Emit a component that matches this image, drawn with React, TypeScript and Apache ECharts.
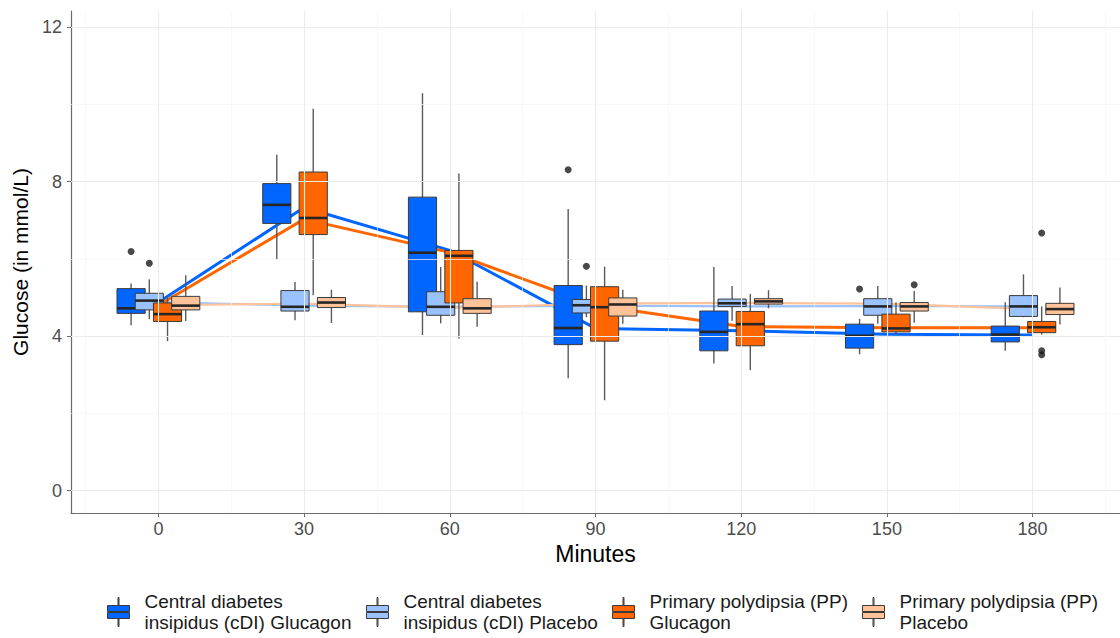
import React, { useEffect, useRef } from "react";
import * as echarts from "echarts";

// ---------- data ----------
const minutes = [0, 30, 60, 90, 120, 150, 180];

const groupNames = [
  "Central diabetes insipidus (cDI) Glucagon",
  "Central diabetes insipidus (cDI) Placebo",
  "Primary polydipsia (PP) Glucagon",
  "Primary polydipsia (PP) Placebo",
];
const legendLabels = [
  "Central diabetes\ninsipidus (cDI) Glucagon",
  "Central diabetes\ninsipidus (cDI) Placebo",
  "Primary polydipsia (PP)\nGlucagon",
  "Primary polydipsia (PP)\nPlacebo",
];

// [min, q1, median, q3, max] per time point
const cdiGlucagonBoxes = [
  [4.28, 4.59, 4.72, 5.23, 5.36],
  [6.0, 6.92, 7.4, 7.95, 8.7],
  [4.03, 4.63, 6.16, 7.6, 10.29],
  [2.91, 3.78, 4.21, 5.31, 7.29],
  [3.29, 3.62, 4.11, 4.65, 5.79],
  [3.53, 3.69, 4.01, 4.31, 4.45],
  [3.62, 3.85, 4.04, 4.26, 4.88],
];
const cdiPlaceboBoxes = [
  [4.44, 4.68, 4.92, 5.11, 5.47],
  [4.41, 4.65, 4.76, 5.18, 5.4],
  [4.33, 4.54, 4.76, 5.15, 5.79],
  [4.49, 4.6, 4.8, 4.95, 5.31],
  [4.4, 4.77, 4.85, 4.96, 5.3],
  [4.32, 4.54, 4.77, 4.97, 5.3],
  [4.49, 4.51, 4.77, 5.05, 5.6],
];
const ppGlucagonBoxes = [
  [3.87, 4.38, 4.57, 4.86, 5.02],
  [5.06, 6.63, 7.06, 8.25, 9.89],
  [3.94, 4.86, 6.08, 6.22, 8.21],
  [2.34, 3.87, 4.75, 5.28, 5.8],
  [3.12, 3.75, 4.31, 4.64, 5.09],
  [4.05, 4.11, 4.2, 4.57, 4.87],
  [4.04, 4.09, 4.23, 4.38, 4.77],
];
const ppPlaceboBoxes = [
  [4.39, 4.68, 4.79, 5.03, 5.58],
  [4.34, 4.74, 4.87, 5.0, 5.2],
  [4.24, 4.59, 4.72, 4.97, 5.41],
  [4.32, 4.52, 4.82, 4.99, 5.2],
  [4.72, 4.83, 4.9, 4.97, 5.19],
  [4.35, 4.65, 4.77, 4.87, 5.17],
  [4.3, 4.56, 4.7, 4.85, 5.26],
];

// group means (connecting lines)
const cdiGlucagonMeans = [4.88, 7.33, 6.22, 4.2, 4.14, 4.05, 4.03];
const cdiPlaceboMeans = [4.88, 4.79, 4.76, 4.79, 4.77, 4.78, 4.77];
const ppGlucagonMeans = [4.8, 7.03, 6.17, 4.8, 4.25, 4.22, 4.22];
const ppPlaceboMeans = [4.8, 4.84, 4.73, 4.84, 4.86, 4.84, 4.7];

// outliers [minute, value]
const cdiGlucagonOutliers = [[0, 6.19], [90, 8.31], [150, 5.22]];
const cdiPlaceboOutliers = [[0, 5.89], [90, 5.81]];
const ppGlucagonOutliers = [[180, 6.67], [180, 3.62], [180, 3.52]];
const ppPlaceboOutliers = [[150, 5.33]];

const yTicks = [0, 4, 8, 12];
const yMinorTicks = [2, 6, 10];
const xMinorTicks = [-15, 15, 45, 75, 105, 135, 165, 195];

// ---------- styles ----------
const FONT = "'Liberation Sans', Arial, Helvetica, sans-serif";
const COLORS = ["#0066FF", "#99C2FF", "#FF6600", "#FFC299"];
const LINE_WIDTHS = [3, 2.2, 3, 2.2];
const DODGE = [-5.625, -1.875, 1.875, 5.625];
const BOX_WIDTH = 5.8;
const LEGEND_LEFT = [107, 366, 612, 862];
const LEGEND_ICON =
  "path://M10.5,0L11.5,0L11.5,8L10.5,8Z M0,8L22,8L22,14L0,14Z M0,15L22,15L22,21L0,21Z M10.5,21L11.5,21L11.5,29L10.5,29Z";

const boxSets = [cdiGlucagonBoxes, cdiPlaceboBoxes, ppGlucagonBoxes, ppPlaceboBoxes];
const meanSets = [cdiGlucagonMeans, cdiPlaceboMeans, ppGlucagonMeans, ppPlaceboMeans];
const outlierSets = [cdiGlucagonOutliers, cdiPlaceboOutliers, ppGlucagonOutliers, ppPlaceboOutliers];

function makeRenderItem(color: string) {
  return (params: any, api: any) => {
    const x = api.value(0);
    const lo = api.coord([x, api.value(1)]);
    const q1 = api.coord([x, api.value(2)]);
    const md = api.coord([x, api.value(3)]);
    const q3 = api.coord([x, api.value(4)]);
    const hi = api.coord([x, api.value(5)]);
    const w = api.size([BOX_WIDTH, 0])[0];
    return {
      type: "group",
      children: [
        {
          type: "line",
          shape: { x1: lo[0], y1: lo[1], x2: hi[0], y2: hi[1] },
          style: { stroke: "#5a5a5a", lineWidth: 1.4 },
        },
        {
          type: "rect",
          shape: { x: q3[0] - w / 2, y: q3[1], width: w, height: q1[1] - q3[1] },
          style: { fill: color, stroke: "#3a3a3a", lineWidth: 1 },
        },
        {
          type: "line",
          shape: { x1: md[0] - w / 2, y1: md[1], x2: md[0] + w / 2, y2: md[1] },
          style: { stroke: "#262626", lineWidth: 2.6 },
        },
      ],
    };
  };
}

export default function App() {
  const ref = useRef<HTMLDivElement>(null);

  useEffect(() => {
    document.body.style.margin = "0";
    if (!ref.current) return;
    const chart = echarts.init(ref.current, undefined, { renderer: "svg" });

    const gridMarks: any[] = [];
    yTicks.forEach((v) => gridMarks.push({ yAxis: v, lineStyle: { color: "#ebebeb", width: 1.1, type: "solid" } }));
    yMinorTicks.forEach((v) => gridMarks.push({ yAxis: v, lineStyle: { color: "#f5f5f5", width: 0.7, type: "solid" } }));
    minutes.forEach((v) => gridMarks.push({ xAxis: v, lineStyle: { color: "#ebebeb", width: 1.1, type: "solid" } }));
    xMinorTicks.forEach((v) => gridMarks.push({ xAxis: v, lineStyle: { color: "#f5f5f5", width: 0.7, type: "solid" } }));

    const series: any[] = [
      {
        name: "grid",
        type: "line",
        data: [],
        z: 1,
        silent: true,
        markLine: {
          silent: true,
          symbol: ["none", "none"],
          label: { show: false },
          animation: false,
          data: gridMarks,
        },
      },
    ];

    groupNames.forEach((name, g) => {
      series.push({
        name: name + " mean",
        type: "line",
        z: 2,
        symbol: "none",
        showSymbol: false,
        lineStyle: { color: COLORS[g], width: LINE_WIDTHS[g] },
        itemStyle: { color: COLORS[g] },
        data: minutes.map((m, i) => [m, meanSets[g][i]]),
      });
    });

    groupNames.forEach((name, g) => {
      series.push({
        name,
        type: "custom",
        z: 3,
        itemStyle: { color: COLORS[g] },
        renderItem: makeRenderItem(COLORS[g]),
        encode: { x: 0, y: [1, 2, 3, 4, 5] },
        data: minutes.map((m, i) => [m + DODGE[g], ...boxSets[g][i]]),
      });
    });

    groupNames.forEach((name, g) => {
      series.push({
        name: name + " outliers",
        type: "scatter",
        z: 4,
        symbolSize: 7,
        itemStyle: { color: "#1a1a1a" },
        data: outlierSets[g].map(([m, v]) => [m + DODGE[g], v]),
      });
    });

    const legends = groupNames.map((name, g) => ({
      show: true,
      left: LEGEND_LEFT[g],
      top: 591,
      padding: 0,
      orient: "horizontal",
      selectedMode: false,
      itemWidth: 22,
      itemHeight: 29,
      formatter: () => legendLabels[g],
      textStyle: { fontSize: 19, color: "#1a1a1a", fontFamily: FONT, lineHeight: 21, padding: [0, 0, 0, 10] },
      data: [
        {
          name,
          icon: LEGEND_ICON,
          itemStyle: { color: COLORS[g], borderColor: "#3a3a3a", borderWidth: 1 },
        },
      ],
    }));

    chart.setOption({
      animation: false,
      backgroundColor: "#ffffff",
      textStyle: { fontFamily: FONT },
      grid: { left: 71, top: 11, width: 1050, height: 502 },
      legend: legends,
      xAxis: {
        type: "value",
        min: -18,
        max: 198,
        name: "Minutes",
        nameLocation: "middle",
        nameGap: 27,
        nameTextStyle: { fontSize: 23, color: "#000", fontFamily: FONT },
        axisLine: { show: true, onZero: false, lineStyle: { color: "#6b6b6b", width: 1.2 } },
        axisTick: { show: true, customValues: minutes, length: 4, lineStyle: { color: "#6b6b6b" } },
        axisLabel: { customValues: minutes, fontSize: 18, color: "#4d4d4d", margin: 7, fontFamily: FONT },
        splitLine: { show: false },
      },
      yAxis: {
        type: "value",
        min: -0.58,
        max: 12.42,
        name: "Glucose (in mmol/L)",
        nameLocation: "middle",
        nameGap: 34,
        nameRotate: 90,
        nameTextStyle: { fontSize: 21, color: "#000", fontFamily: FONT },
        axisLine: { show: true, onZero: false, lineStyle: { color: "#6b6b6b", width: 1.2 } },
        axisTick: { show: true, customValues: yTicks, length: 4, lineStyle: { color: "#6b6b6b" } },
        axisLabel: { customValues: yTicks, fontSize: 18, color: "#4d4d4d", margin: 9, fontFamily: FONT },
        splitLine: { show: false },
      },
      series,
    });

    return () => chart.dispose();
  }, []);

  return <div ref={ref} style={{ width: 1120, height: 638 }} />;
}
